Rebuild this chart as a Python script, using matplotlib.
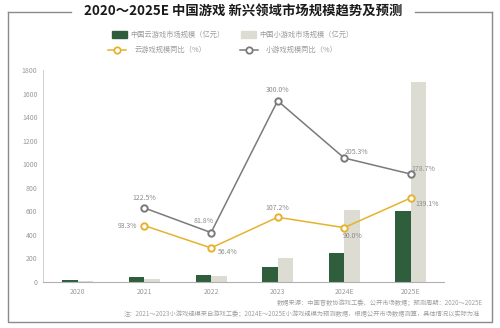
import numpy as np
import matplotlib
matplotlib.use("Agg")
import matplotlib.pyplot as plt
from matplotlib.patches import Rectangle

plt.rcParams['font.family'] = ['Noto Sans CJK SC', 'DejaVu Sans']

# data
years = ["2020", "2021", "2022", "2023", "2024E", "2025E"]
cloud_size = [21.1, 40.7, 63.5, 131.6, 250, 605]
mini_size = [12.4, 27.5, 50, 200, 610, 1700]
cloud_growth = [None, 93.3, 56.4, 107.2, 90.0, 139.1]
mini_growth = [None, 122.5, 81.8, 300.0, 205.3, 178.7]

green = "#2e5e3b"
beige = "#dddcd2"
gold = "#e6b22e"
grey = "#7a7a7a"
label_c = "#8c8c8c"

fig = plt.figure(figsize=(5, 3.28), dpi=100)

# frame around chart, broken by title
frame = fig.add_axes([0, 0, 1, 1])
frame.set_xlim(0, 500)
frame.set_ylim(328, 0)
frame.axis("off")
fc = "#8a8a8a"
frame.plot([8, 8, 492, 492], [12, 322, 322, 12], color=fc, lw=1.0)
frame.plot([8, 71], [12, 12], color=fc, lw=1.0)
frame.plot([415, 492], [12, 12], color=fc, lw=1.0)
frame.text(243, 12, "2020～2025E 中国游戏 新兴领域市场规模趋势及预测",
           ha="center", va="center", fontsize=9.6, fontweight="bold", color="#1a1a1a")

ax = fig.add_axes([43 / 500, 46 / 328, 401 / 500, 212 / 328])
x = np.arange(len(years))
w = 0.233
ax.bar(x - w / 2, cloud_size, width=w, color=green, zorder=2)
ax.bar(x + w / 2, mini_size, width=w, color=beige, zorder=2)
ax.set_xlim(-0.525, 5.5)
ax.set_ylim(0, 1800)
ax.set_yticks(range(0, 1801, 200))
ax.set_xticks(x)
ax.set_xticklabels(years)
ax.tick_params(length=0, labelsize=5, colors="#9a9a9a", pad=4)
for s in ["top", "right"]:
    ax.spines[s].set_visible(False)
ax.spines["left"].set_color("#c8c8c8")
ax.spines["bottom"].set_color("#b0b0b0")
ax.spines["left"].set_linewidth(0.6)
ax.spines["bottom"].set_linewidth(0.8)

ax2 = ax.twinx()
ax2.set_ylim(0, 351)
ax2.axis("off")
xs = x[1:]
ax2.plot(xs, mini_growth[1:], color=grey, lw=1.1, marker="o", ms=4.6,
         mfc="white", mec=grey, mew=1.4, zorder=4)
ax2.plot(xs, cloud_growth[1:], color=gold, lw=1.1, marker="o", ms=4.6,
         mfc="white", mec=gold, mew=1.4, zorder=4)

# value labels: (dx, dy) offsets in points
cloud_off = [None, (-12, 0), (12, -3), (0, 7), (6, -6), (12, -4)]
mini_off = [None, (0, 7), (-5, 8), (0, 8), (9, 4), (9, 4)]
for i in xs:
    dx, dy = cloud_off[i]
    ax2.annotate(f"{cloud_growth[i]:.1f}%", (i, cloud_growth[i]), xytext=(dx, dy),
                 textcoords="offset points", ha="center", va="center",
                 fontsize=5, color=label_c, zorder=5)
    dx, dy = mini_off[i]
    ax2.annotate(f"{mini_growth[i]:.1f}%", (i, mini_growth[i]), xytext=(dx, dy),
                 textcoords="offset points", ha="center", va="center",
                 fontsize=5, color=label_c, zorder=5)

# legend
leg_font = dict(fontsize=5.2, color="#9a9a9a", va="center", ha="left")
frame.add_patch(Rectangle((112, 31), 15, 7, color=green))
frame.text(130, 35, "中国云游戏市场规模（亿元）", **leg_font)
frame.add_patch(Rectangle((241, 31), 15, 7, color=beige))
frame.text(259, 35, "中国小游戏市场规模（亿元）", **leg_font)
frame.plot([108, 126], [50, 50], color=gold, lw=1.1)
frame.plot([117], [50], marker="o", ms=4.6, mfc="white", mec=gold, mew=1.3)
frame.text(135, 50, "云游戏规模同比（%）", **leg_font)
frame.plot([240, 258], [50, 50], color=grey, lw=1.1)
frame.plot([249], [50], marker="o", ms=4.6, mfc="white", mec=grey, mew=1.3)
frame.text(266, 50, "小游戏规模同比（%）", **leg_font)

# footnotes
frame.text(483, 304, "数据来源：中国音数协游戏工委、公开市场数据；预测周期：2020～2025E",
           fontsize=4.5, color="#a0a0a0", ha="right", va="center")
frame.text(480, 315, "注：2021～2023小游戏规模来自游戏工委；2024E～2025E小游戏规模为预测数据，根据公开市场数据测算，具体情况以实际为准",
           fontsize=4.5, color="#a0a0a0", ha="right", va="center")

fig.savefig("out.png", dpi=100)
